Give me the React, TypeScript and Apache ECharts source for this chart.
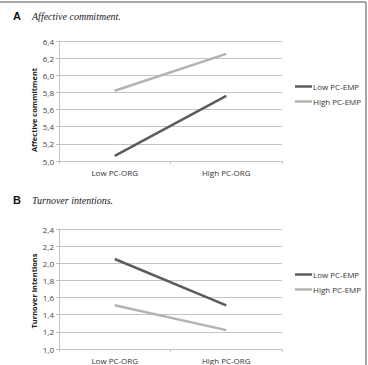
import React, { useEffect, useRef } from "react";
import * as echarts from "echarts";

const categories = ["Low PC-ORG", "High PC-ORG"];
const seriesNames = ["Low PC-EMP", "High PC-EMP"];
const affLow = [5.06, 5.76];
const affHigh = [5.82, 6.25];
const turnLow = [2.05, 1.51];
const turnHigh = [1.51, 1.22];
const affTicks = { min: 5.0, max: 6.4, interval: 0.2 };
const turnTicks = { min: 1.0, max: 2.4, interval: 0.2 };

const DARK = "#5c5c5c";
const LIGHT = "#b3b3b3";
const GRID = "#c4c4c4";
const FONT = "'Open Sans', 'Liberation Sans', sans-serif";

export default function App() {
  const ref = useRef<HTMLDivElement>(null);
  useEffect(() => {
    document.body.style.margin = "0";
    const chart = echarts.init(ref.current!, null, { renderer: "svg" });
    const fmt = (v: number) => v.toFixed(1).replace(".", ",");
    const yAxis = (t: any, gi: number) => ({
      type: "value",
      gridIndex: gi,
      min: t.min,
      max: t.max,
      interval: t.interval,
      axisLine: { show: true, lineStyle: { color: GRID, width: 1 } },
      axisTick: { show: true, length: 3, lineStyle: { color: GRID } },
      splitLine: { show: true, lineStyle: { color: GRID, width: 1 } },
      axisLabel: { formatter: fmt, fontSize: 8, color: "#444", margin: 5, fontFamily: FONT },
    });
    const xAxis = (gi: number) => ({
      type: "category",
      gridIndex: gi,
      data: categories,
      boundaryGap: true,
      axisLine: { show: true, lineStyle: { color: GRID, width: 1 } },
      axisTick: { show: true, length: 3, lineStyle: { color: GRID } },
      axisLabel: { fontSize: 8, color: "#333", margin: 7, fontFamily: FONT },
    });
    const line = (name: string, data: number[], color: string, gi: number) => ({
      type: "line",
      name,
      data,
      xAxisIndex: gi,
      yAxisIndex: gi,
      symbol: "none",
      lineStyle: { color, width: 2.5 },
      itemStyle: { color },
    });
    const legend = (top: number) => ({
      orient: "vertical",
      left: 290,
      top,
      icon: "rect",
      itemWidth: 17,
      itemHeight: 2.5,
      itemGap: 4,
      data: seriesNames,
      selectedMode: false,
      textStyle: { fontSize: 8, color: "#333", fontFamily: FONT, padding: [0, 0, 0, -4], lineHeight: 11 },
    });
    chart.setOption({
      animation: false,
      grid: [
        { left: 59, top: 41, width: 223, height: 120 },
        { left: 59, top: 229, width: 223, height: 120 },
      ],
      xAxis: [xAxis(0), xAxis(1)],
      yAxis: [yAxis(affTicks, 0), yAxis(turnTicks, 1)],
      legend: [legend(76), legend(264)],
      series: [
        line(seriesNames[0], affLow, DARK, 0),
        line(seriesNames[1], affHigh, LIGHT, 0),
        line(seriesNames[0], turnLow, DARK, 1),
        line(seriesNames[1], turnHigh, LIGHT, 1),
      ],
      graphic: [
        { type: "line", shape: { x1: 0, y1: 2, x2: 366, y2: 2 }, style: { stroke: "#8a8a8a", lineWidth: 1.5 } },
        { type: "line", shape: { x1: 366, y1: 2, x2: 366, y2: 365 }, style: { stroke: "#8a8a8a", lineWidth: 1.5 } },
        { type: "text", x: 13, y: 16, style: { text: "A", font: "bold 11px 'Liberation Sans', Arial, sans-serif", fill: "#111", verticalAlign: "middle" } },
        { type: "text", x: 32, y: 16, style: { text: "Affective commitment.", font: "italic 10px 'Liberation Serif', 'Times New Roman', serif", fill: "#222", verticalAlign: "middle" } },
        { type: "text", x: 13, y: 200, style: { text: "B", font: "bold 11px 'Liberation Sans', Arial, sans-serif", fill: "#111", verticalAlign: "middle" } },
        { type: "text", x: 32, y: 200, style: { text: "Turnover intentions.", font: "italic 10px 'Liberation Serif', 'Times New Roman', serif", fill: "#222", verticalAlign: "middle" } },
        { type: "text", x: 34, y: 110, rotation: Math.PI / 2, style: { text: "Affective commitment", font: `bold 7.5px ${FONT}`, fill: "#222", align: "center", verticalAlign: "middle" } },
        { type: "text", x: 34, y: 291, rotation: Math.PI / 2, style: { text: "Turnover intentions", font: `bold 7.5px ${FONT}`, fill: "#222", align: "center", verticalAlign: "middle" } },
      ],
    });
    return () => chart.dispose();
  }, []);
  return <div ref={ref} style={{ position: "absolute", left: 0, top: 0, width: 368, height: 365, background: "#fff" }} />;
}
